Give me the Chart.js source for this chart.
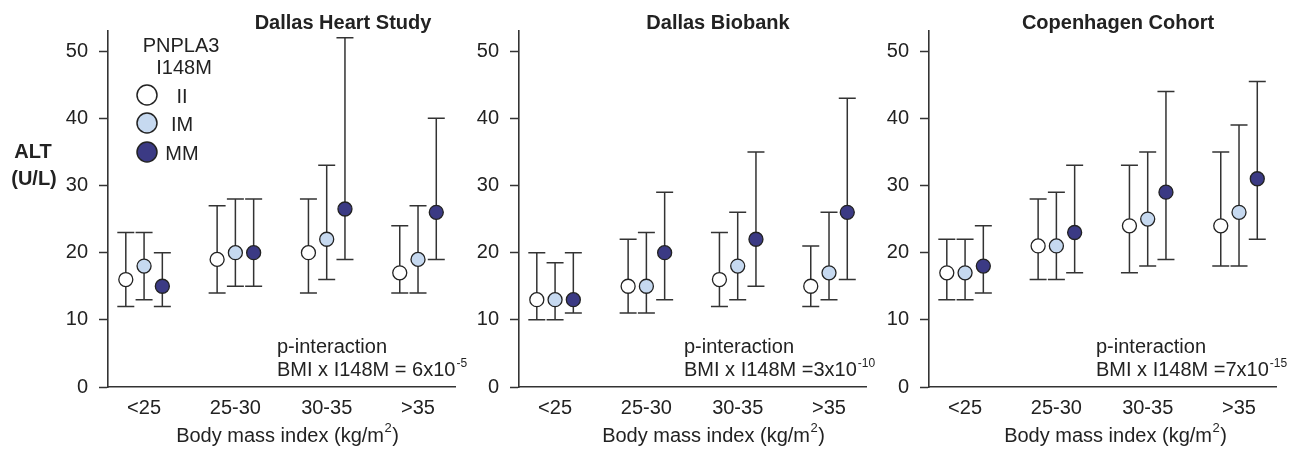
<!DOCTYPE html>
<html><head><meta charset="utf-8">
<script src="https://cdn.jsdelivr.net/npm/chart.js@4.4.1/dist/chart.umd.min.js"></script>
<style>
html,body{margin:0;padding:0;background:#fff;}
#wrap{position:relative;width:1308px;height:451px;overflow:hidden;background:#fff;}
canvas{position:absolute;left:0;top:0;}
</style></head><body>
<div id="wrap">
<canvas id="c0" width="1308" height="451"></canvas>
<canvas id="c1" width="1308" height="451"></canvas>
<canvas id="c2" width="1308" height="451"></canvas>
</div>
<script>
// ---------- DATA ----------
const categories = ['<25', '25-30', '30-35', '>35'];
const genotypes = ['II', 'IM', 'MM'];
const yTicks = [0, 10, 20, 30, 40, 50];

// Dallas Heart Study (median, lower, upper)
const dhs_II = [16, 19, 20, 17];
const dhs_II_lo = [12, 14, 14, 14];
const dhs_II_hi = [23, 27, 28, 24];
const dhs_IM = [18, 20, 22, 19];
const dhs_IM_lo = [13, 15, 16, 14];
const dhs_IM_hi = [23, 28, 33, 27];
const dhs_MM = [15, 20, 26.5, 26];
const dhs_MM_lo = [12, 15, 19, 19];
const dhs_MM_hi = [20, 28, 52, 40];

// Dallas Biobank
const dbb_II = [13, 15, 16, 15];
const dbb_II_lo = [10, 11, 12, 12];
const dbb_II_hi = [20, 22, 23, 21];
const dbb_IM = [13, 15, 18, 17];
const dbb_IM_lo = [10, 11, 13, 13];
const dbb_IM_hi = [18.5, 23, 26, 26];
const dbb_MM = [13, 20, 22, 26];
const dbb_MM_lo = [11, 13, 15, 16];
const dbb_MM_hi = [20, 29, 35, 43];

// Copenhagen Cohort
const cph_II = [17, 21, 24, 24];
const cph_II_lo = [13, 16, 17, 18];
const cph_II_hi = [22, 28, 33, 35];
const cph_IM = [17, 21, 25, 26];
const cph_IM_lo = [13, 16, 18, 18];
const cph_IM_hi = [22, 29, 35, 39];
const cph_MM = [18, 23, 29, 31];
const cph_MM_lo = [14, 17, 19, 22];
const cph_MM_hi = [24, 33, 44, 45.5];

const titles = ['Dallas Heart Study', 'Dallas Biobank', 'Copenhagen Cohort'];
const pMain = ['BMI x I148M = 6x10', 'BMI x I148M =3x10', 'BMI x I148M =7x10'];
const pExp = ['-5', '-10', '-15'];

// ---------- STYLE ----------
const FONT = "'Liberation Sans', Arial, Helvetica, sans-serif";
const INK = '#222222';
const fills = ['#ffffff', '#c6d9f0', '#3b3a84'];
const groupOffset = [-0.2, 0, 0.2];

const panels = [
  { id: 'c0', med: [dhs_II, dhs_IM, dhs_MM], lo: [dhs_II_lo, dhs_IM_lo, dhs_MM_lo], hi: [dhs_II_hi, dhs_IM_hi, dhs_MM_hi],
    left: 108, titleX: 343, xTitleX: 287, annX: 277, legend: true },
  { id: 'c1', med: [dbb_II, dbb_IM, dbb_MM], lo: [dbb_II_lo, dbb_IM_lo, dbb_MM_lo], hi: [dbb_II_hi, dbb_IM_hi, dbb_MM_hi],
    left: 519, titleX: 718, xTitleX: 713, annX: 684, legend: false },
  { id: 'c2', med: [cph_II, cph_IM, cph_MM], lo: [cph_II_lo, cph_IM_lo, cph_MM_lo], hi: [cph_II_hi, cph_IM_hi, cph_MM_hi],
    left: 929, titleX: 1118, xTitleX: 1115, annX: 1096, legend: false }
];
const AREA_W = 347, AREA_TOP = 31, AREA_BOTTOM = 387, Y_AXIS_W = 60;

Chart.defaults.font.family = FONT;
Chart.defaults.font.size = 20;
Chart.defaults.color = INK;

function makeChart(p, idx) {
  const datasets = genotypes.map((g, gi) => ({
    label: g,
    type: 'scatter',
    data: categories.map((c, ci) => ({ x: ci + groupOffset[gi], y: p.med[gi][ci] })),
    errLo: p.lo[gi],
    errHi: p.hi[gi],
    gOff: groupOffset[gi],
    pointRadius: 7,
    pointHoverRadius: 7,
    pointBackgroundColor: fills[gi],
    pointBorderColor: INK,
    pointBorderWidth: 1.3,
    showLine: false
  }));

  const whiskers = {
    id: 'whiskers',
    beforeDatasetsDraw(chart) {
      const ctx = chart.ctx, xs = chart.scales.x, ys = chart.scales.y;
      ctx.save();
      ctx.strokeStyle = '#333';
      ctx.lineWidth = 1.5;
      chart.data.datasets.forEach(ds => {
        ds.errLo.forEach((lo, ci) => {
          const x = xs.getPixelForValue(ci + ds.gOff);
          const yl = ys.getPixelForValue(lo);
          const yh = ys.getPixelForValue(ds.errHi[ci]);
          const cap = 8.5;
          ctx.beginPath();
          ctx.moveTo(x, yl); ctx.lineTo(x, yh);
          ctx.moveTo(x - cap, yl); ctx.lineTo(x + cap, yl);
          ctx.moveTo(x - cap, yh); ctx.lineTo(x + cap, yh);
          ctx.stroke();
        });
      });
      ctx.restore();
    }
  };

  const texts = {
    id: 'texts',
    afterDraw(chart) {
      const ctx = chart.ctx;
      ctx.save();
      ctx.fillStyle = INK;
      ctx.textBaseline = 'alphabetic';
      // panel title
      ctx.font = `bold 20px ${FONT}`;
      ctx.textAlign = 'center';
      ctx.fillText(titles[idx], p.titleX, 28.5);
      // x-axis title with superscript
      ctx.font = `20px ${FONT}`;
      const t1 = 'Body mass index (kg/m', t2 = '2', t3 = ')';
      const w1 = ctx.measureText(t1).width;
      const w3 = ctx.measureText(t3).width;
      ctx.font = `13px ${FONT}`;
      const w2 = ctx.measureText(t2).width;
      const tot = w1 + w2 + w3;
      let x0 = p.xTitleX - tot / 2;
      ctx.textAlign = 'left';
      ctx.font = `20px ${FONT}`;
      ctx.fillText(t1, x0, 442);
      ctx.font = `13px ${FONT}`;
      ctx.fillText(t2, x0 + w1 + 0.5, 432);
      ctx.font = `20px ${FONT}`;
      ctx.fillText(t3, x0 + w1 + w2 + 1, 442);
      // p-interaction annotation
      ctx.fillText('p-interaction', p.annX, 353);
      ctx.fillText(pMain[idx], p.annX, 376);
      const wm = ctx.measureText(pMain[idx]).width;
      ctx.font = `12px ${FONT}`;
      ctx.fillText(pExp[idx], p.annX + wm + 1, 367);
      if (p.legend) {
        // y-axis label
        ctx.font = `bold 20px ${FONT}`;
        ctx.textAlign = 'center';
        ctx.fillText('ALT', 33, 158);
        ctx.fillText('(U/L)', 34, 185);
        // legend
        ctx.font = `20px ${FONT}`;
        ctx.fillText('PNPLA3', 181, 52);
        ctx.fillText('I148M', 184, 74);
        const ly = [95, 123, 152];
        genotypes.forEach((g, gi) => {
          ctx.beginPath();
          ctx.arc(147, ly[gi], 10, 0, Math.PI * 2);
          ctx.fillStyle = fills[gi];
          ctx.fill();
          ctx.lineWidth = 1.5;
          ctx.strokeStyle = INK;
          ctx.stroke();
          ctx.fillStyle = INK;
          ctx.textAlign = 'center';
          ctx.fillText(g, 182, ly[gi] + 8);
        });
      }
      ctx.restore();
    }
  };

  return new Chart(document.getElementById(p.id), {
    type: 'scatter',
    data: { datasets },
    plugins: [whiskers, texts],
    options: {
      responsive: false,
      animation: false,
      events: [],
      layout: {
        padding: { left: p.left - Y_AXIS_W, right: 1308 - (p.left + AREA_W), top: AREA_TOP, bottom: 0 }
      },
      plugins: { legend: { display: false }, title: { display: false }, tooltip: { enabled: false } },
      scales: {
        x: {
          type: 'linear',
          min: -0.395, max: 3.405,
          afterFit(s) { s.height = 451 - AREA_BOTTOM; },
          grid: { display: true, drawOnChartArea: false, drawTicks: false },
          border: { display: true, color: '#333', width: 1.6 },
          ticks: {
            stepSize: 1, includeBounds: false, autoSkip: false, maxRotation: 0, padding: 9,
            color: INK, font: { size: 20 },
            callback: v => (Number.isInteger(v) && v >= 0 && v < categories.length) ? categories[v] : ''
          }
        },
        y: {
          type: 'linear',
          min: 0, max: 53,
          afterFit(s) { s.width = Y_AXIS_W; },
          afterBuildTicks(s) { s.ticks = yTicks.map(v => ({ value: v })); },
          grid: { display: true, drawOnChartArea: false, drawTicks: true, tickLength: 9, tickWidth: 1.5, tickColor: '#333' },
          border: { display: true, color: '#333', width: 1.6 },
          ticks: { includeBounds: false, padding: 11, color: INK, font: { size: 20 } }
        }
      }
    }
  });
}

panels.forEach((p, i) => makeChart(p, i));
</script>
</body></html>
